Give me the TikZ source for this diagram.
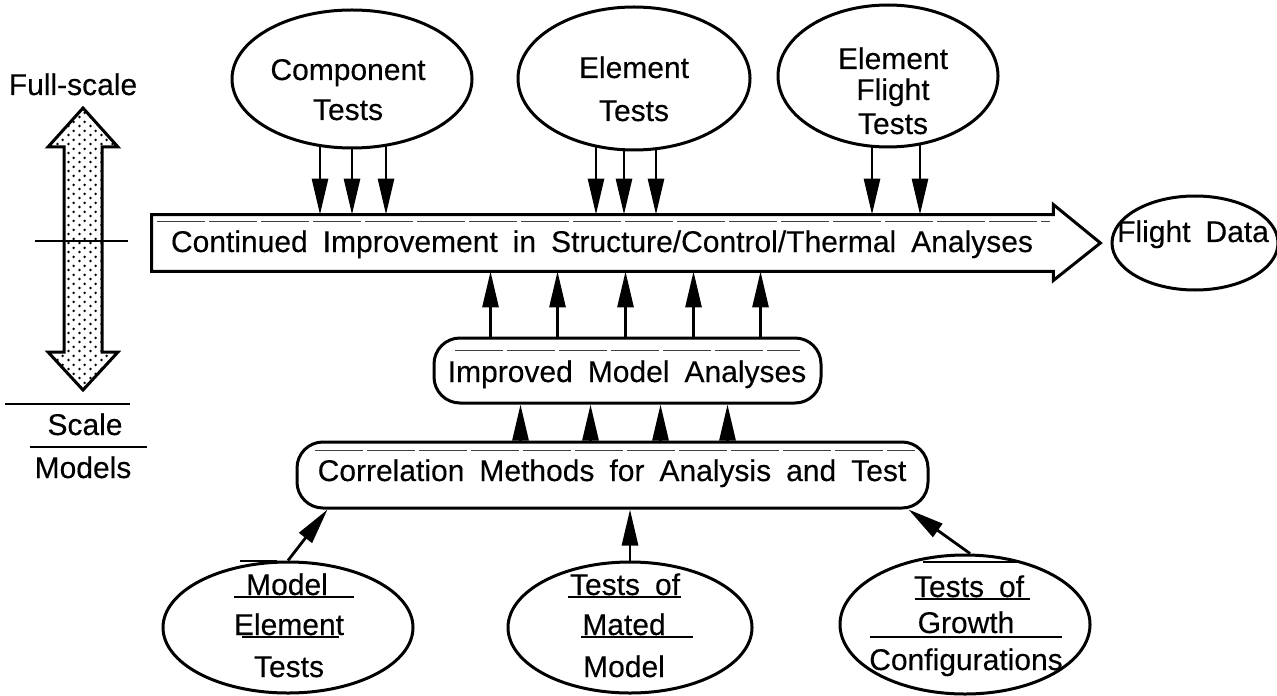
\documentclass[tikz,border=0pt]{standalone}
\usepackage{fontspec}
\setmainfont{Liberation Sans}[WordSpace=1.8,FakeBold=0.25]
\usetikzlibrary{shapes.geometric,calc,patterns.meta,arrows.meta}
\tikzdeclarepattern{
  name=sdots, type=uncolored,
  bounding box={(0pt,0pt) and (5.5pt,4.5pt)},
  tile size={(5.5pt,4.5pt)},
  code={\fill (1.375pt,1.125pt) circle (0.75pt); \fill (4.125pt,3.375pt) circle (0.75pt);}
}
\begin{document}
\begin{tikzpicture}[x=0.5pt,y=-0.5pt,
  shapeline/.style={line width=1.5pt, line join=miter},
  ell/.style={draw, ellipse, line width=1.5pt, inner sep=0pt},
  pill/.style={draw, rectangle, rounded corners=13pt, line width=1.5pt, inner sep=0pt},
  lbl/.style={anchor=base, inner sep=0pt, font=\fontsize{15}{18}\selectfont},
  arr/.style={line width=1.4pt, -{Triangle[length=18pt,width=8pt]}},
  uline/.style={line width=0.8pt},
  faint/.style={line width=0.4pt, black!75, dash pattern=on 24pt off 2pt},
]
\useasboundingbox (0,0) rectangle (1277,695);

% left scale indicator
\node[lbl] (fs) at (73,95) {Full-scale};
\draw[shapeline, pattern={sdots}, pattern color=black]
  (83,108) -- (118,147) -- (102,147) -- (102,352) -- (118,352) -- (83,390)
  -- (48,352) -- (64,352) -- (64,147) -- (48,147) -- cycle;
\draw[line width=1.2pt] (35,241) -- (128,241);
\draw[line width=1pt] (5,404) -- (130,404);
\node[lbl] (sc) at (85,435) {Scale};
\draw[line width=1pt] (30,447) -- (147,447);
\node[lbl] (md) at (83,478) {Models};

% top ellipses
\node[ell, minimum width=120pt, minimum height=69pt] (comp) at (352,79) {};
\node[lbl] (comp1) at (348,80) {Component};
\node[lbl] (comp2) at (348,120) {Tests};
\node[ell, minimum width=116pt, minimum height=71.5pt] (elt) at (634,78.5) {};
\node[lbl] (elt1) at (634,78) {Element};
\node[lbl] (elt2) at (634,121) {Tests};
\node[ell, minimum width=110pt, minimum height=71pt] (eft) at (888,76) {};
\node[lbl] (eft1) at (893,69) {Element};
\node[lbl] (eft2) at (893,100) {Flight};
\node[lbl] (eft3) at (893,134) {Tests};

% big arrow
\node[minimum width=450.5pt, minimum height=28pt, inner sep=0pt] (big) at (602.5,243) {};
\draw[shapeline] (big.north west) -- (big.north east) -- ($(big.north east)+(0,-10)$)
  -- ($(big.east)+(47,0)$) -- ($(big.south east)+(0,9)$) -- (big.south east)
  -- (big.south west) -- cycle;
\draw[faint] (157,221) -- (1050,221);
\node[lbl] (bigt) at (602,252) {Continued Improvement in Structure/Control/Thermal Analyses};

\node[ell, minimum width=83pt, minimum height=47pt] (fd) at (1195,243) {};
\node[lbl] (fdt) at (1193,242) {Flight Data};

% middle boxes
\node[pill, minimum width=193.5pt, minimum height=32.5pt] (imp) at (627.5,370.5) {};
\draw[faint] (455,350) -- (800,350);
\node[lbl] (impt) at (627,382) {Improved Model Analyses};
\node[pill, minimum width=315.5pt, minimum height=33pt] (corr) at (612.5,475) {};
\draw[faint] (315,450) -- (915,450);
\node[lbl] (corrt) at (612,481) {Correlation Methods for Analysis and Test};

% bottom ellipses
\node[ell, minimum width=125pt, minimum height=65.5pt] (mel) at (288,627.5) {};
\draw[uline] (240,561) -- (277,561);
\node[lbl] (mel1) at (287,595) {Model};
\draw[uline] (234,597) -- (354,597);
\node[lbl] (mel2) at (289,635) {Element};
\draw[uline] (242,637) -- (339,637);
\node[lbl] (mel3) at (289,677) {Tests};

\node[ell, minimum width=122pt, minimum height=65.5pt] (mat) at (630,627.5) {};
\node[lbl] (mat1) at (625,595) {Tests of};
\draw[uline] (568,597) -- (681,597);
\node[lbl] (mat2) at (624,635) {Mated};
\draw[uline] (581,637) -- (693,637);
\node[lbl] (mat3) at (624,677) {Model};

\node[ell, minimum width=125pt, minimum height=69.5pt] (grw) at (965,624.5) {};
\draw[uline] (923,562) -- (1017,562);
\node[lbl] (grw1) at (969,597) {Tests of};
\draw[uline] (915,599) -- (1030,599);
\node[lbl] (grw2) at (966,633) {Growth};
\draw[uline] (870,637) -- (1062,637);
\node[lbl] (grw3) at (966,670) {Configurations};

% arrows down into big arrow
\foreach \dx/\dy [count=\i] in {-32/2.5, 0/0, 34/3}
  \draw[arr] (comp.south) ++(\dx,-\dy) coordinate (ca\i) -- (ca\i |- big.north);
\foreach \dx/\dy [count=\i] in {-38/4, -10/0.5, 22/1.5}
  \draw[arr] (elt.south) ++(\dx,-\dy) coordinate (ea\i) -- (ea\i |- big.north);
\foreach \dx/\dy [count=\i] in {-16/1, 32/3}
  \draw[arr] (eft.south) ++(\dx,-\dy) coordinate (fa\i) -- (fa\i |- big.north);

% arrows up
\foreach \dx [count=\i] in {-137,-70,-2,66,133}
  \draw[arr] (imp.north) ++(\dx,0) coordinate (ia\i) -- (ia\i |- big.south);
\foreach \dx [count=\i] in {-107,-37,33,100} {
  \path (imp.south) ++(\dx,0) coordinate (ib\i);
  \draw[arr] (ib\i |- corr.north) -- (ib\i);
}
\draw[arr] (mel.north) -- ($(corr.south west)+(32,0)$);
\draw[arr] (mat.north) -- (mat.north |- corr.south);
\draw[arr] (grw.north) ++(5,0) -- ($(corr.south east)+(-21,0)$);
\end{tikzpicture}
\end{document}
